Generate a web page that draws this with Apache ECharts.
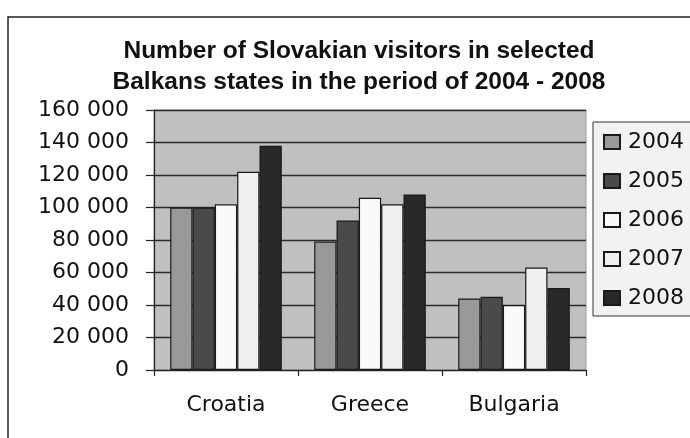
<!DOCTYPE html>
<html><head><meta charset="utf-8">
<script src="https://cdn.jsdelivr.net/npm/echarts@6/dist/echarts.min.js"></script>
<style>html,body{margin:0;padding:0;background:#fff}#c{width:690px;height:438px}</style>
</head><body><div id="c"></div>
<script>
const categories = ['Croatia', 'Greece', 'Bulgaria'];
const years = ['2004', '2005', '2006', '2007', '2008'];
const v2004 = [100000, 79000, 44000];
const v2005 = [100000, 92000, 45000];
const v2006 = [102000, 106000, 40000];
const v2007 = [122000, 102000, 63000];
const v2008 = [138000, 108000, 50500];
const yTicks = [0, 20000, 40000, 60000, 80000, 100000, 120000, 140000, 160000];
const seriesValues = [v2004, v2005, v2006, v2007, v2008];
const colors = ['#999999', '#4a4a4a', '#fafafa', '#f0f0f0', '#292929'];
const FONT = '"Liberation Sans", Arial, sans-serif';
const LFONT = '"DejaVu Sans", sans-serif';

const chart = echarts.init(document.getElementById('c'), null, {renderer: 'canvas'});
const fmt = v => String(v).replace(/\B(?=(\d{3})+(?!\d))/g, ' ');
chart.setOption({
  animation: false,
  textStyle: {fontFamily: FONT},
  graphic: [{
    type: 'rect', shape: {x: 8, y: 17, width: 720, height: 460},
    style: {fill: 'none', stroke: '#222', lineWidth: 1.5}, z: -1
  }],
  title: {
    text: 'Number of Slovakian visitors in selected\nBalkans states in the period of 2004 - 2008',
    left: 354, top: 31, textAlign: 'center',
    textStyle: {fontFamily: FONT, fontSize: 24.5, fontWeight: 'bold', color: '#111', lineHeight: 31}
  },
  legend: {
    orient: 'vertical', left: 593, top: 122,
    padding: [9, 40, 7, 10],
    itemWidth: 16, itemHeight: 14, itemGap: 17,
    backgroundColor: '#f2f2f2', borderColor: '#333', borderWidth: 1,
    textStyle: {fontFamily: LFONT, fontSize: 22, color: '#111', padding: [0, 0, 0, 3]},
    icon: 'rect',
    data: years
  },
  grid: {
    left: 154, top: 110, right: 104, bottom: 68,
    show: true, backgroundColor: '#c0c0c0', borderColor: '#9a9a9a', borderWidth: 1
  },
  xAxis: {
    type: 'category', data: categories,
    axisLine: {lineStyle: {color: '#222', width: 1.2}},
    axisTick: {show: true, length: 6, lineStyle: {color: '#222', width: 1.2}},
    axisLabel: {fontFamily: LFONT, fontSize: 22, color: '#111', margin: 24}
  },
  yAxis: {
    type: 'value', min: yTicks[0], max: yTicks[yTicks.length - 1], interval: yTicks[1] - yTicks[0],
    axisLine: {show: true, lineStyle: {color: '#222', width: 1.2}},
    axisTick: {show: true, length: 8, lineStyle: {color: '#222', width: 1.2}},
    splitLine: {show: true, lineStyle: {color: '#2a2a2a', width: 1.4}},
    axisLabel: {fontFamily: LFONT, fontSize: 22, color: '#111', margin: 25, formatter: fmt}
  },
  series: years.map((y, i) => ({
    name: y, type: 'bar', data: seriesValues[i],
    barGap: '0%', barCategoryGap: '22.5%',
    itemStyle: {color: colors[i], borderColor: '#1a1a1a', borderWidth: 1.2}
  }))
});
</script></body></html>
